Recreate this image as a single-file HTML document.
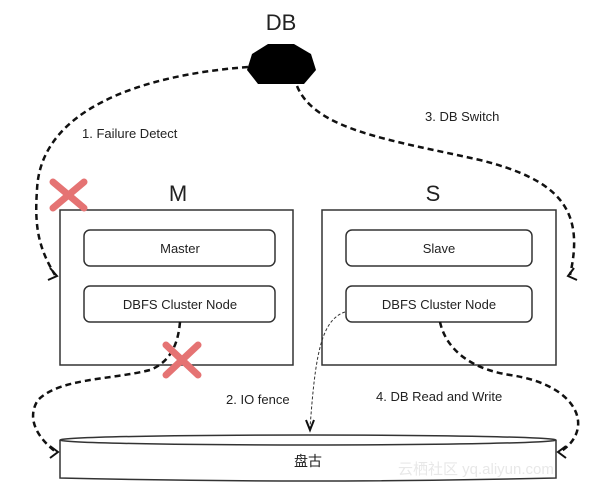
<!DOCTYPE html>
<html><head><meta charset="utf-8"><style>
html,body{margin:0;padding:0;background:#fff;}
svg{display:block;}
text{font-family:"Liberation Sans","Noto Sans CJK SC",sans-serif;fill:#222;}
</style></head><body>
<svg width="608" height="501" viewBox="0 0 608 501" xmlns="http://www.w3.org/2000/svg">
<rect x="0" y="0" width="608" height="501" fill="#fff"/>
<text x="281" y="30" font-size="22" text-anchor="middle">DB</text>
<polygon points="268,44 294,44 311,54 316,70 304,84 258,84 247,70 252,54" fill="#000"/>
<g fill="#fff" stroke="#333" stroke-width="1.5">
<rect x="60" y="210" width="233" height="155"/>
<rect x="322" y="210" width="234" height="155"/>
<rect x="84" y="230" width="191" height="36" rx="6"/>
<rect x="84" y="286" width="191" height="36" rx="6"/>
<rect x="346" y="230" width="186" height="36" rx="6"/>
<rect x="346" y="286" width="186" height="36" rx="6"/>
<path d="M60,440 L60,478 Q308,484 556,478 L556,440"/>
<ellipse cx="308" cy="440" rx="248" ry="5"/>
</g>
<g fill="none" stroke="#111" stroke-width="2.5" stroke-dasharray="6,4">
<path d="M248,67 C140,75 40,110 37,190 C34,230 40,250 55,275"/>
<path d="M297,86 C315,130 390,140 480,160 C560,180 585,210 570,275"/>
<path d="M180,322 C178,345 170,362 150,370 C110,380 60,378 38,400 C25,420 40,440 56,452"/>
<path d="M440,322 C445,345 465,368 510,375 C580,385 595,430 560,452"/>
</g>
<path d="M345,312 C320,320 315,360 310,428" fill="none" stroke="#333" stroke-width="1" stroke-dasharray="3,2"/>
<g fill="none" stroke="#111" stroke-width="2">
<path d="M50,268 L57,276 L48,280"/>
<path d="M574,268 L568,276 L577,280"/>
<path d="M50,446 L58,452 L50,458"/>
<path d="M566,446 L558,452 L566,458"/>
<path d="M306,420 L310,430 L314,420"/>
</g>
<text x="82" y="138" font-size="13">1. Failure Detect</text>
<text x="425" y="121" font-size="13">3. DB Switch</text>
<text x="226" y="404" font-size="13">2. IO fence</text>
<text x="376" y="401" font-size="13">4. DB Read and Write</text>
<text x="178" y="201" font-size="22" text-anchor="middle">M</text>
<text x="433" y="201" font-size="22" text-anchor="middle">S</text>
<text x="180" y="253" font-size="13" text-anchor="middle">Master</text>
<text x="180" y="309" font-size="13" text-anchor="middle">DBFS Cluster Node</text>
<text x="439" y="253" font-size="13" text-anchor="middle">Slave</text>
<text x="439" y="309" font-size="13" text-anchor="middle">DBFS Cluster Node</text>
<text x="308" y="466" font-size="14" text-anchor="middle">盘古</text>
<text x="398" y="474" font-size="15" style="fill:#e8e8e8">云栖社区 yq.aliyun.com</text>
<g stroke="#e57373" stroke-width="7" stroke-linecap="round">
<line x1="53" y1="182" x2="84" y2="208"/><line x1="84" y1="182" x2="53" y2="208"/>
<line x1="166" y1="345" x2="198" y2="375"/><line x1="198" y1="345" x2="166" y2="375"/>
</g>
</svg>
</body></html>
